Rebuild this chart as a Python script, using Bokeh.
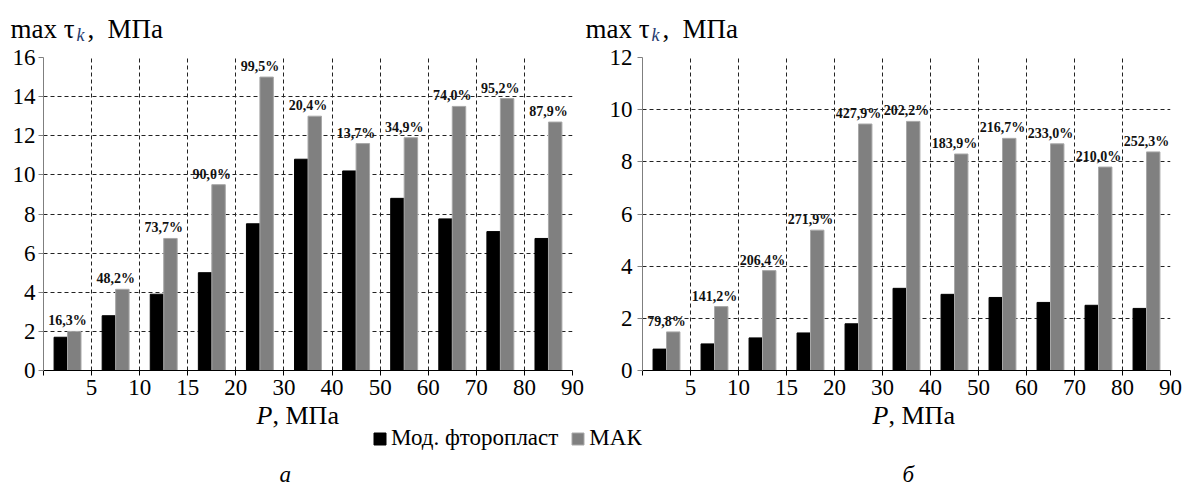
import numpy as np
from bokeh.plotting import figure
from bokeh.models import (ColumnDataSource, FixedTicker, Label, Legend, LegendItem,
                          Range1d)
from bokeh.layouts import column, row
from bokeh.transform import dodge
from bokeh.core.properties import value
from bokeh.embed import file_html
from bokeh.resources import INLINE

# Pressure intervals (upper bound of each interval, MPa)
pressure_labels = ["5", "10", "15", "20", "30", "40", "50", "60", "70", "80", "90"]

# Panel "а": max shear stress, MPa
ptfe_a = [1.7, 2.8, 3.9, 5.0, 7.5, 10.8, 10.2, 8.8, 7.75, 7.1, 6.75]
mak_a = [2.0, 4.15, 6.75, 9.5, 15.0, 13.0, 11.6, 11.9, 13.5, 13.9, 12.7]
gain_a = ["16,3%", "48,2%", "73,7%", "90,0%", "99,5%", "20,4%",
          "13,7%", "34,9%", "74,0%", "95,2%", "87,9%"]

# Panel "б": max shear stress, MPa
ptfe_b = [0.82, 1.02, 1.25, 1.44, 1.79, 3.15, 2.92, 2.8, 2.61, 2.5, 2.38]
mak_b = [1.48, 2.45, 3.83, 5.38, 9.45, 9.55, 8.3, 8.9, 8.69, 7.8, 8.38]
gain_b = ["79,8%", "141,2%", "206,4%", "271,9%", "427,9%", "202,2%",
          "183,9%", "216,7%", "233,0%", "210,0%", "252,3%"]

series_names = ["Мод. фторопласт", "МАК"]

SERIF = "Liberation Serif"
BLACK = "#000000"
GREY = "#808080"
GRID = "#222222"

W = 1187
TOP_STRIP = 45       # strip holding the y-axis titles
CHART_H = 356        # chart row height
BOTTOM_STRIP = 486 - TOP_STRIP - CHART_H


def strip(height):
    f = figure(width=W, height=height, x_range=Range1d(0, 1), y_range=Range1d(0, 1),
               output_backend="svg", toolbar_location=None,
               min_border_left=0, min_border_right=0, min_border_top=0, min_border_bottom=0)
    f.axis.visible = False
    f.grid.visible = False
    f.outline_line_color = None
    return f


def text_label(f, x, y, text, size, style="normal", color=BLACK):
    f.add_layout(Label(x=x, y=y, x_units="screen", y_units="screen", text=text,
                       text_font=SERIF, text_font_style=style, text_font_size=size,
                       text_color=color, text_baseline="alphabetic"))


def panel(ptfe, mak, gains, ymax, width, left, right, label_standoff):
    n = len(pressure_labels)
    p = figure(width=width, height=CHART_H, x_range=Range1d(0, n), y_range=Range1d(0, ymax),
               output_backend="svg", toolbar_location=None,
               min_border_left=left, min_border_right=right,
               min_border_top=12, min_border_bottom=31)
    p.outline_line_color = None

    src = ColumnDataSource(dict(x=[i + 0.5 for i in range(n)], ptfe=ptfe, mak=mak, gain=gains))
    p.vbar(x=dodge("x", -0.14, range=p.x_range), top="ptfe", width=0.28, source=src,
           fill_color=BLACK, line_color=BLACK, line_width=1)
    p.vbar(x=dodge("x", 0.14, range=p.x_range), top="mak", width=0.28, source=src,
           fill_color=GREY, line_color="#a8a8a8", line_width=1)
    p.text(x="x", y="mak", text="gain", source=src, text_font=value(SERIF),
           text_font_style="bold", text_font_size="14px", text_color="#111111",
           text_align="center", text_baseline="bottom", y_offset=-3)

    # x axis: ticks at the interval boundaries
    xa = p.xaxis[0]
    xa.ticker = FixedTicker(ticks=list(range(n + 1)))
    overrides = {0: ""}
    for i, lab in enumerate(pressure_labels):
        overrides[i + 1] = lab
    xa.major_label_overrides = overrides
    xa.axis_line_color = BLACK
    xa.major_tick_line_color = BLACK
    xa.minor_tick_line_color = None
    xa.major_tick_in = 0
    xa.major_tick_out = 5
    xa.major_label_standoff = 4
    xa.major_label_text_font = SERIF
    xa.major_label_text_font_size = "23px"
    xa.major_label_text_color = BLACK

    ya = p.yaxis[0]
    ya.ticker = FixedTicker(ticks=list(range(0, ymax + 1, 2)))
    ya.axis_line_color = "#7f7f7f"
    ya.major_tick_line_color = "#7f7f7f"
    ya.minor_tick_line_color = None
    ya.major_tick_in = 0
    ya.major_tick_out = 5
    ya.major_label_standoff = label_standoff
    ya.major_label_text_font = SERIF
    ya.major_label_text_font_size = "23px"
    ya.major_label_text_color = BLACK

    p.xgrid.ticker = FixedTicker(ticks=list(range(1, n + 1)))
    p.ygrid.ticker = FixedTicker(ticks=list(range(2, ymax + 1, 2)))
    for g in (p.xgrid[0], p.ygrid[0]):
        g.grid_line_color = GRID
        g.grid_line_dash = "4 3"
        g.grid_line_width = 1
    return p


SPLIT = 584
left_fig = panel(ptfe_a, mak_a, gain_a, 16, SPLIT, 43, SPLIT - 572, 3)
right_fig = panel(ptfe_b, mak_b, gain_b, 12, W - SPLIT, 642 - SPLIT, W - 1170, 5)

# top strip: y-axis titles  "max τ_k, МПа"
top = strip(TOP_STRIP)
for x0 in (10, 585):
    text_label(top, x0, 17, "max τ", "27px")
    text_label(top, x0 + 66, 11, "k", "18px", style="italic", color="#1f3a6e")
    text_label(top, x0 + 77, 17, ",", "27px")
    text_label(top, x0 + 97, 17, "МПа", "27px")

# bottom strip: x-axis titles, shared legend, panel letters
bottom = strip(BOTTOM_STRIP)
for x0 in (256, 872):
    text_label(bottom, x0, 71, "P", "26px", style="italic")
    text_label(bottom, x0 + 16, 71, ", МПа", "26px")

# swatch renderers for the legend (no visible data)
dummy = ColumnDataSource(dict(x=np.array([np.nan]), top=np.array([np.nan])))
lg_ptfe = bottom.vbar(x="x", top="top", width=0.1, source=dummy, fill_color=BLACK, line_color=BLACK)
lg_mak = bottom.vbar(x="x", top="top", width=0.1, source=dummy, fill_color=GREY, line_color="#a8a8a8")
legend = Legend(items=[LegendItem(label=series_names[0], renderers=[lg_ptfe]),
                       LegendItem(label=series_names[1], renderers=[lg_mak])],
                orientation="horizontal", location=(372, 35),
                glyph_width=15, glyph_height=15, label_standoff=4, spacing=12,
                padding=0, margin=0, border_line_color=None, background_fill_alpha=0,
                label_text_font=SERIF, label_text_font_size="23px", label_text_color=BLACK,
                label_height=15)
bottom.add_layout(legend, "center")
text_label(bottom, 279, 12, "а", "23px", style="italic")
text_label(bottom, 902, 12, "б", "23px", style="italic")

layout = column(top, row(left_fig, right_fig, spacing=0), bottom, spacing=0)
open("out.html", "w").write(file_html(layout, INLINE))
